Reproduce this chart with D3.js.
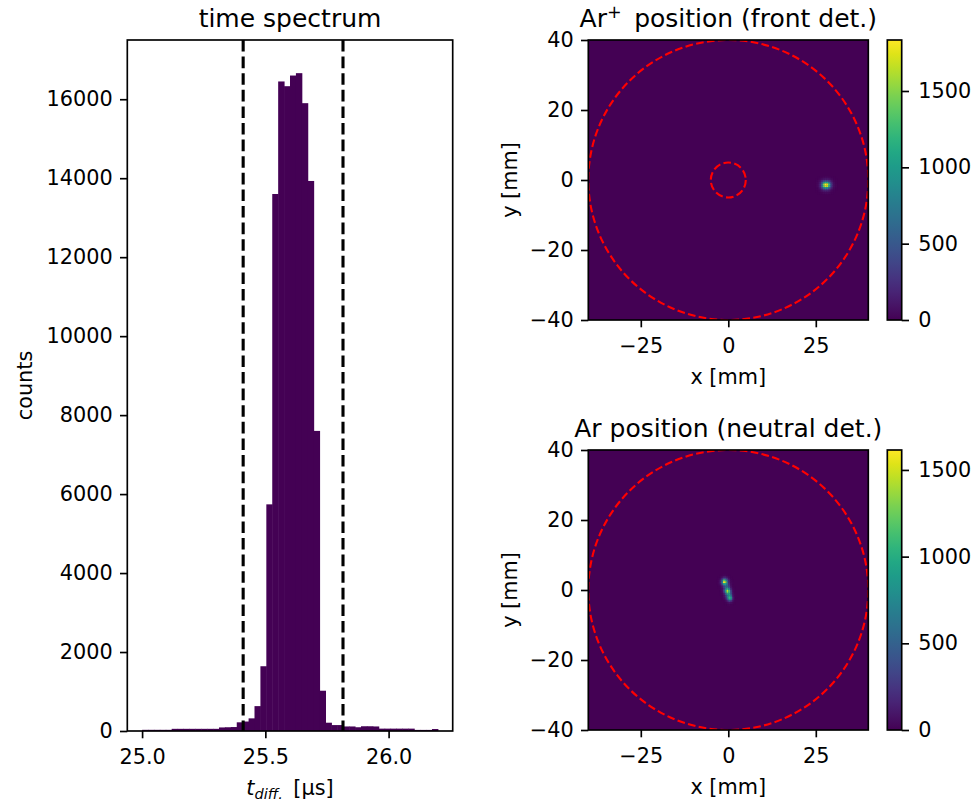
<!DOCTYPE html>
<html><head><meta charset="utf-8">
<script src="https://cdn.jsdelivr.net/npm/d3@7"></script>
<style>body{margin:0;background:#fff} text{font-family:"DejaVu Sans",sans-serif;fill:#000}</style>
</head><body><svg id="c" width="979" height="808"></svg>
<script>
// ---------- data ----------
const histBinStart = 25.0, histBinWidth = 0.024;
const histCounts = [30,30,30,30,30, 55,55,55,55,55,55,55,55, 90,95,100,220,240,320,630,1640,
  5740,13600,16450,16330,16600,16660,15900,13930,7600,1020,
  210,150,150,115,115,95,120,120,115, 60,60,60,60,60,60, 28,28,28,50];
const cutLines = [25.41, 25.815];
const histXTicks = [25.0, 25.5, 26.0];
const histYTicks = [0,2000,4000,6000,8000,10000,12000,14000,16000];
const posXTicks = [-25, 0, 25];
const posYTicks = [-40, -20, 0, 20, 40];
const cbarTicks = [0, 500, 1000, 1500];
const frontMax = 1834, neutralMax = 1615;
const cellSize = 0.5;
const detRadius = 40, innerRadius = 5;
// front detector spot: left edge x0, top edge y0 (mm), rows from top
const frontSpotX0 = 25.0, frontSpotY0 = 1.0;
const frontSpot = [
 [0,5,10,20,30,40,40,30,20,10,5,0],
 [5,10,30,60,100,120,120,100,60,30,10,5],
 [10,30,80,180,300,380,360,280,160,70,20,10],
 [15,50,160,400,850,1150,1100,750,350,130,40,10],
 [20,60,220,650,1450,1834,1750,1300,550,180,50,15],
 [20,60,210,620,1350,1700,1650,1200,500,170,45,15],
 [10,40,140,380,750,1000,950,650,300,110,35,10],
 [10,25,70,160,300,380,360,260,130,50,15,5],
 [5,10,30,60,100,120,110,90,50,20,10,0],
 [0,5,10,20,30,40,40,30,20,10,0,0]
];
const neutralSpotX0 = -3.5, neutralSpotY0 = 4.5;
const neutralSpot = [
 [0,0,5,10,20,20,10,5,0,0,0,0],
 [0,5,15,50,90,90,50,20,5,0,0,0],
 [0,10,50,200,400,350,180,50,10,0,0,0],
 [5,20,120,550,1200,1000,450,120,20,5,0,0],
 [5,25,150,700,1615,1350,600,150,30,10,0,0],
 [5,20,100,450,1000,950,550,180,40,10,0,0],
 [0,10,50,200,450,600,500,250,60,10,0,0],
 [0,5,25,100,300,550,650,400,100,20,5,0],
 [0,0,15,60,250,750,1100,750,200,40,10,0],
 [0,0,10,60,300,900,1450,1100,350,60,10,0],
 [0,0,10,40,200,700,1250,1050,400,80,10,0],
 [0,0,5,20,100,400,850,900,500,100,20,0],
 [0,0,0,10,60,220,650,950,750,150,20,0],
 [0,0,0,10,40,150,550,1050,950,220,30,5],
 [0,0,0,5,20,80,350,800,700,180,20,0],
 [0,0,0,0,10,30,120,280,220,80,10,0],
 [0,0,0,0,5,10,30,60,50,20,5,0],
 [0,0,0,0,0,5,10,15,10,5,0,0]
];

// ---------- layout ----------
const FS = 20.8, TFS = 25, TICK = 7.3, PAD = 7.3, LW = 1.67;
const svg = d3.select("#c");
const hist = {l:127.3, r:452.7, t:40, b:731};
const panels = [
  {t:40, b:320, title:"front", data:frontSpot, x0:frontSpotX0, y0:frontSpotY0, vmax:frontMax, inner:true},
  {t:450, b:730, title:"neutral", data:neutralSpot, x0:neutralSpotX0, y0:neutralSpotY0, vmax:neutralMax, inner:false}
];
const PL = 588.3, PR = 868.3, CBL = 887.3, CBR = 901.7;

function styleAxis(g){
  g.select(".domain").remove();
  g.selectAll(".tick line").attr("stroke","#000").attr("stroke-width",LW);
  g.selectAll(".tick text").attr("font-size",FS).attr("font-family","DejaVu Sans").attr("fill","#000");
  g.attr("font-size",null).attr("font-family",null);
}
function bottomAxis(g, scale, ticks, fmt){
  g.call(d3.axisBottom(scale).tickValues(ticks).tickFormat(fmt).tickSize(TICK).tickSizeOuter(0));
  styleAxis(g);
  g.selectAll(".tick text").attr("y",33).attr("dy",null);
}
function leftAxis(g, scale, ticks, fmt){
  g.call(d3.axisLeft(scale).tickValues(ticks).tickFormat(fmt).tickSize(TICK).tickPadding(PAD).tickSizeOuter(0));
  styleAxis(g);
}
function rightAxis(g, scale, ticks, fmt){
  g.call(d3.axisRight(scale).tickValues(ticks).tickFormat(fmt).tickSize(TICK).tickPadding(PAD+2).tickSizeOuter(0));
  styleAxis(g);
}

// ---------- histogram ----------
const hx = d3.scaleLinear().domain([24.94, 26.26]).range([hist.l, hist.r]);
const hy = d3.scaleLinear().domain([0, 17500]).range([hist.b, hist.t]);
const bins = histCounts.map((c,i)=>({x0:histBinStart+i*histBinWidth, x1:histBinStart+(i+1)*histBinWidth, c}));
svg.append("g").selectAll("rect").data(bins).join("rect")
  .attr("x",d=>hx(d.x0)).attr("width",d=>hx(d.x1)-hx(d.x0)+0.5)
  .attr("y",d=>hy(d.c)).attr("height",d=>hy(0)-hy(d.c))
  .attr("fill","#440154");
svg.append("g").selectAll("line").data(cutLines).join("line")
  .attr("x1",d=>hx(d)).attr("x2",d=>hx(d)).attr("y1",hist.t).attr("y2",hist.b)
  .attr("stroke","#000").attr("stroke-width",3.1).attr("stroke-dasharray","11.6,5");
svg.append("rect").attr("x",hist.l).attr("y",hist.t).attr("width",hist.r-hist.l).attr("height",hist.b-hist.t)
  .attr("fill","none").attr("stroke","#000").attr("stroke-width",LW);
bottomAxis(svg.append("g").attr("transform",`translate(0,${hist.b})`), hx, histXTicks, d3.format(".1f"));
leftAxis(svg.append("g").attr("transform",`translate(${hist.l},0)`), hy, histYTicks, d3.format("d"));
svg.append("text").attr("x",(hist.l+hist.r)/2).attr("y",27).attr("text-anchor","middle").attr("font-size",TFS).text("time spectrum");
svg.append("text").attr("transform",`translate(32,${(hist.t+hist.b)/2}) rotate(-90)`).attr("text-anchor","middle").attr("font-size",FS).text("counts");
const xl = svg.append("text").attr("x",(hist.l+hist.r)/2).attr("y",795).attr("text-anchor","middle").attr("font-size",FS);
xl.append("tspan").attr("font-style","italic").text("t");
xl.append("tspan").attr("font-style","italic").attr("font-size",FS*0.7).attr("dy",4).text("diff.");
xl.append("tspan").attr("dy",-4).text("\u2002[µs]");

// ---------- position panels ----------
panels.forEach(p=>{
  const x = d3.scaleLinear().domain([-40,40]).range([PL,PR]);
  const y = d3.scaleLinear().domain([-40,40]).range([p.b,p.t]);
  const col = d3.scaleSequential(d3.interpolateViridis).domain([0,p.vmax]);
  const clipId = "clip"+p.title;
  svg.append("clipPath").attr("id",clipId).append("rect").attr("x",PL).attr("y",p.t).attr("width",PR-PL).attr("height",p.b-p.t);
  const g = svg.append("g").attr("clip-path",`url(#${clipId})`);
  g.append("rect").attr("x",x(-40)).attr("y",y(40)).attr("width",x(40)-x(-40)).attr("height",y(-40)-y(40)).attr("fill",col(0));
  const cells = [];
  p.data.forEach((row,r)=>row.forEach((v,c)=>{ if(v>0) cells.push({x:p.x0+c*cellSize, y:p.y0-r*cellSize, v}); }));
  g.append("g").selectAll("rect").data(cells).join("rect")
    .attr("x",d=>x(d.x)).attr("y",d=>y(d.y)).attr("width",x(cellSize)-x(0)+0.25).attr("height",y(0)-y(cellSize)+0.25)
    .attr("fill",d=>col(d.v));
  const circles = p.inner ? [detRadius, innerRadius] : [detRadius];
  g.selectAll("circle").data(circles).join("circle")
    .attr("cx",x(0)).attr("cy",y(0)).attr("r",d=>x(d)-x(0))
    .attr("fill","none").attr("stroke","#ff0000").attr("stroke-width",2.1).attr("stroke-dasharray","7.7,3.3");
  svg.append("rect").attr("x",PL).attr("y",p.t).attr("width",PR-PL).attr("height",p.b-p.t)
    .attr("fill","none").attr("stroke","#000").attr("stroke-width",LW);
  bottomAxis(svg.append("g").attr("transform",`translate(0,${p.b})`), x, posXTicks, d3.format("d"));
  leftAxis(svg.append("g").attr("transform",`translate(${PL},0)`), y, posYTicks, d3.format("d"));
  svg.append("text").attr("x",(PL+PR)/2).attr("y",p.b+63.5).attr("text-anchor","middle").attr("font-size",FS).text("x [mm]");
  svg.append("text").attr("transform",`translate(517,${(p.t+p.b)/2}) rotate(-90)`).attr("text-anchor","middle").attr("font-size",FS).text("y [mm]");
  const tt = svg.append("text").attr("x",(PL+PR)/2).attr("y",p.t-13).attr("text-anchor","middle").attr("font-size",TFS);
  if(p.inner){
    tt.append("tspan").text("Ar");
    tt.append("tspan").attr("font-size",TFS*0.7).attr("dy",-9).text("+");
    tt.append("tspan").attr("dy",9).text("\u2002position (front det.)");
  } else {
    tt.text("Ar position (neutral det.)");
  }
  // colorbar
  const gid = "grad"+p.title;
  const grad = svg.append("defs").append("linearGradient").attr("id",gid).attr("x1",0).attr("x2",0).attr("y1",1).attr("y2",0);
  d3.range(0,1.0001,0.05).forEach(t=>grad.append("stop").attr("offset",t).attr("stop-color",d3.interpolateViridis(t)));
  const cy = d3.scaleLinear().domain([0,p.vmax]).range([p.b,p.t]);
  svg.append("rect").attr("x",CBL).attr("y",cy(p.vmax)).attr("width",CBR-CBL).attr("height",cy(0)-cy(p.vmax))
    .attr("fill",`url(#${gid})`).attr("stroke","#000").attr("stroke-width",LW);
  rightAxis(svg.append("g").attr("transform",`translate(${CBR},0)`), cy, cbarTicks, d3.format("d"));
});
</script></body></html>
